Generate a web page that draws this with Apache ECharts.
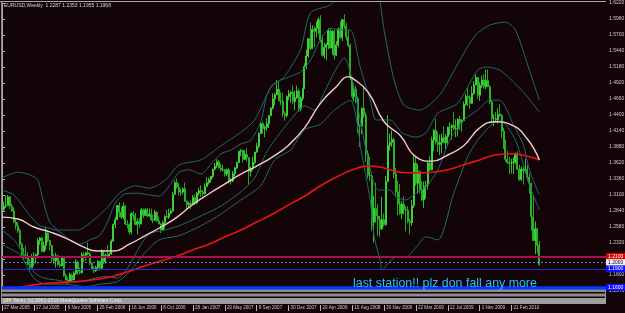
<!DOCTYPE html>
<html><head><meta charset="utf-8">
<script src="https://cdn.jsdelivr.net/npm/echarts@6/dist/echarts.min.js"></script>
<style>html,body{margin:0;padding:0;background:#120407;}#c{width:625px;height:313px;}</style>
</head><body><div id="c"></div>
<script>
const chartTitle = 'EURUSD,Weekly  1.2287 1.2353 1.1955 1.1968';
const footerText = 'UPI Timer, (c) 2001-2010 MetaQuotes Software Corp.';
const noteText = 'last station!! plz don fall any more';
const tickLabels = ['27 Mar 2005','17 Jul 2005','6 Nov 2005','26 Feb 2006','18 Jun 2006','8 Oct 2006','28 Jan 2007','20 May 2007','9 Sep 2007','30 Dec 2007','20 Apr 2008','10 Aug 2008','30 Nov 2008','22 Mar 2009','12 Jul 2009','1 Nov 2009','21 Feb 2010'];
const weeksPerLabel = 16;
const totalSlots = 304;
const yMin = 1.1540, yMax = 1.62201, yStep = 0.026;

const opens = [1.2960,1.2870,1.2920,1.2930,1.3070,1.2920,1.2840,1.2660,1.2600,1.2520,
1.2300,1.2130,1.2120,1.2080,1.1970,1.1920,1.2080,1.2110,1.2130,1.2360,
1.2400,1.2180,1.2280,1.2480,1.2360,1.2280,1.2070,1.2030,1.2110,1.1970,
1.1950,1.2080,1.1790,1.1720,1.1700,1.1800,1.1720,1.1830,1.2010,1.1860,
1.1840,1.2130,1.2120,1.2160,1.2140,1.1990,1.1900,1.1870,1.1920,1.2020,
1.1910,1.2180,1.2010,1.2120,1.2110,1.2140,1.2350,1.2620,1.2700,1.2930,
1.2820,1.2740,1.2920,1.2630,1.2620,1.2500,1.2800,1.2770,1.2620,1.2670,
1.2630,1.2860,1.2770,1.2860,1.2760,1.2790,1.2700,1.2690,1.2820,1.2680,
1.2630,1.2530,1.2650,1.2750,1.2740,1.2800,1.2840,1.3110,1.3300,1.3230,
1.3150,1.3150,1.3200,1.3000,1.2940,1.2960,1.2950,1.3060,1.2970,1.3130,
1.3170,1.3150,1.3120,1.3240,1.3300,1.3350,1.3400,1.3520,1.3570,1.3640,
1.3540,1.3510,1.3510,1.3440,1.3510,1.3330,1.3330,1.3450,1.3540,1.3630,
1.3810,1.3820,1.3680,1.3760,1.3710,1.3480,1.3530,1.3630,1.3800,1.3890,
1.4100,1.4260,1.4180,1.4200,1.4260,1.4390,1.4510,1.4660,1.4730,1.4820,
1.4630,1.4620,1.4420,1.4390,1.4700,1.4750,1.4770,1.4620,1.4680,1.4790,
1.4500,1.4670,1.4830,1.5190,1.5360,1.5640,1.5480,1.5790,1.5760,1.5810,
1.5950,1.5620,1.5370,1.5500,1.5540,1.5770,1.5490,1.5760,1.5370,1.5540,
1.5800,1.5660,1.5950,1.5850,1.5670,1.5530,1.5010,1.4700,1.4820,1.4670,
1.4230,1.4220,1.4510,1.4390,1.3770,1.3420,1.3410,1.2660,1.2880,1.2760,
1.2700,1.2550,1.2700,1.2620,1.3320,1.3910,1.3950,1.4000,1.3440,1.3150,
1.2950,1.2800,1.2950,1.2860,1.2850,1.2670,1.2650,1.2930,1.3620,1.3290,
1.3480,1.3190,1.3020,1.3240,1.3260,1.3620,1.3510,1.3990,1.4150,1.3960,
1.3920,1.3950,1.4030,1.3950,1.4050,1.4200,1.4200,1.4230,1.4180,1.4180,
1.4330,1.4280,1.4310,1.4570,1.4700,1.4680,1.4590,1.4750,1.4890,1.5010,
1.4720,1.4880,1.4970,1.4860,1.4960,1.4860,1.4610,1.4340,1.4340,1.4320,
1.4410,1.4390,1.4140,1.3860,1.3680,1.3630,1.3620,1.3620,1.3630,1.3770,
1.3520,1.3350,1.3520,1.3490,1.3520,1.3390,1.3290,1.2750,1.2360,1.2550,
1.2287];

const highs = [1.3000,1.2990,1.3090,1.3100,1.3080,1.2960,1.2900,1.2720,1.2660,1.2560,
1.2330,1.2240,1.2280,1.2170,1.2060,1.2140,1.2170,1.2150,1.2400,1.2420,
1.2420,1.2340,1.2590,1.2520,1.2370,1.2290,1.2140,1.2160,1.2130,1.2030,
1.2110,1.2110,1.1830,1.1760,1.1840,1.1830,1.1860,1.2060,1.2040,1.1920,
1.2170,1.2170,1.2170,1.2330,1.2180,1.2010,1.1940,1.1950,1.2040,1.2030,
1.2220,1.2200,1.2150,1.2290,1.2160,1.2380,1.2640,1.2750,1.2940,1.2980,
1.2900,1.2980,1.2940,1.2690,1.2640,1.2820,1.2840,1.2810,1.2720,1.2730,
1.2890,1.2880,1.2890,1.2890,1.2880,1.2880,1.2780,1.2860,1.2830,1.2750,
1.2640,1.2680,1.2770,1.2860,1.2880,1.2880,1.3150,1.3330,1.3370,1.3290,
1.3200,1.3220,1.3300,1.3010,1.2990,1.3010,1.3100,1.3110,1.3150,1.3220,
1.3260,1.3180,1.3290,1.3390,1.3380,1.3410,1.3530,1.3620,1.3680,1.3670,
1.3610,1.3590,1.3520,1.3530,1.3540,1.3370,1.3490,1.3560,1.3640,1.3820,
1.3850,1.3840,1.3830,1.3860,1.3710,1.3560,1.3720,1.3800,1.3950,1.4120,
1.4280,1.4290,1.4230,1.4350,1.4400,1.4530,1.4750,1.4760,1.4970,1.4950,
1.4770,1.4760,1.4460,1.4720,1.4810,1.4790,1.4880,1.4790,1.4880,1.4830,
1.4700,1.4830,1.5240,1.5460,1.5650,1.5900,1.5860,1.5840,1.5920,1.5990,
1.6020,1.5700,1.5570,1.5570,1.5810,1.5810,1.5780,1.5780,1.5600,1.5820,
1.5920,1.5960,1.6038,1.5900,1.5780,1.5560,1.5020,1.4900,1.4870,1.4700,
1.4250,1.4520,1.4870,1.4440,1.3830,1.3720,1.3470,1.3090,1.3300,1.2950,
1.2760,1.3070,1.2800,1.3410,1.4400,1.4100,1.4150,1.4030,1.3540,1.3330,
1.3280,1.3000,1.3080,1.2920,1.2920,1.2720,1.3020,1.3740,1.3740,1.3600,
1.3500,1.3320,1.3320,1.3330,1.3650,1.3740,1.4050,1.4170,1.4340,1.4130,
1.4080,1.4100,1.4220,1.4090,1.4210,1.4280,1.4250,1.4450,1.4330,1.4350,
1.4390,1.4330,1.4620,1.4740,1.4840,1.4720,1.4870,1.4950,1.5060,1.5020,
1.4930,1.5040,1.5060,1.5140,1.5140,1.4880,1.4650,1.4410,1.4450,1.4510,
1.4580,1.4420,1.4190,1.4000,1.3820,1.3720,1.3690,1.3710,1.3790,1.3810,
1.3590,1.3560,1.3560,1.3690,1.3590,1.3450,1.3300,1.3100,1.2670,1.2570,
1.2353];

const lows = [1.2850,1.2840,1.2890,1.2930,1.2870,1.2830,1.2650,1.2540,1.2480,1.2230,
1.2080,1.2040,1.2060,1.1960,1.1867,1.1910,1.1950,1.1990,1.2100,1.2290,
1.2170,1.2170,1.2200,1.2330,1.2200,1.2000,1.1980,1.1920,1.1950,1.1920,
1.1940,1.1770,1.1710,1.1640,1.1690,1.1700,1.1710,1.1800,1.1800,1.1810,
1.1820,1.2000,1.2030,1.2120,1.1960,1.1880,1.1830,1.1850,1.1870,1.1870,
1.1900,1.1980,1.1980,1.2070,1.2070,1.2130,1.2340,1.2560,1.2690,1.2740,
1.2710,1.2710,1.2610,1.2560,1.2460,1.2460,1.2690,1.2610,1.2460,1.2570,
1.2620,1.2720,1.2760,1.2740,1.2750,1.2680,1.2640,1.2680,1.2660,1.2620,
1.2480,1.2520,1.2550,1.2720,1.2710,1.2790,1.2830,1.3100,1.3200,1.3090,
1.3090,1.3110,1.2990,1.2870,1.2880,1.2870,1.2930,1.2930,1.2950,1.3090,
1.3070,1.3080,1.3110,1.3230,1.3270,1.3300,1.3370,1.3500,1.3540,1.3530,
1.3480,1.3480,1.3400,1.3410,1.3290,1.3270,1.3310,1.3400,1.3520,1.3620,
1.3730,1.3630,1.3670,1.3650,1.3260,1.3400,1.3500,1.3600,1.3780,1.3860,
1.4090,1.4100,1.4040,1.4140,1.4190,1.4380,1.4490,1.4560,1.4720,1.4620,
1.4560,1.4370,1.4310,1.4360,1.4640,1.4600,1.4580,1.4480,1.4660,1.4450,
1.4460,1.4630,1.4820,1.5140,1.5330,1.5450,1.5470,1.5500,1.5660,1.5720,
1.5580,1.5350,1.5320,1.5290,1.5470,1.5480,1.5380,1.5300,1.5360,1.5500,
1.5630,1.5600,1.5800,1.5610,1.5500,1.4970,1.4660,1.4620,1.4590,1.4110,
1.3880,1.4090,1.4350,1.3640,1.3370,1.3330,1.2520,1.2330,1.2650,1.2440,
1.2420,1.2530,1.2590,1.2600,1.3310,1.3820,1.3880,1.3370,1.3080,1.2770,
1.2780,1.2710,1.2780,1.2510,1.2640,1.2460,1.2600,1.2890,1.3250,1.3120,
1.3130,1.3000,1.2890,1.3040,1.3190,1.3490,1.3500,1.3810,1.3920,1.3800,
1.3750,1.3780,1.3940,1.3850,1.3900,1.4080,1.4000,1.4150,1.4040,1.4050,
1.4160,1.4130,1.4300,1.4550,1.4550,1.4500,1.4580,1.4730,1.4880,1.4660,
1.4630,1.4840,1.4830,1.4820,1.4850,1.4580,1.4260,1.4220,1.4290,1.4260,
1.4370,1.4030,1.3850,1.3640,1.3600,1.3440,1.3450,1.3440,1.3600,1.3510,
1.3330,1.3330,1.3270,1.3450,1.3330,1.3120,1.2520,1.2350,1.2140,1.2150,
1.1955];

const closes = [1.2870,1.2920,1.2930,1.3070,1.2920,1.2840,1.2660,1.2600,1.2520,1.2300,
1.2130,1.2120,1.2080,1.1970,1.1920,1.2080,1.2110,1.2130,1.2360,1.2400,
1.2180,1.2280,1.2480,1.2360,1.2280,1.2070,1.2030,1.2110,1.1970,1.1950,
1.2080,1.1790,1.1720,1.1700,1.1800,1.1720,1.1830,1.2010,1.1860,1.1840,
1.2130,1.2120,1.2160,1.2140,1.1990,1.1900,1.1870,1.1920,1.2020,1.1910,
1.2180,1.2010,1.2120,1.2110,1.2140,1.2350,1.2620,1.2700,1.2930,1.2820,
1.2740,1.2920,1.2630,1.2620,1.2500,1.2800,1.2770,1.2620,1.2670,1.2630,
1.2860,1.2770,1.2860,1.2760,1.2790,1.2700,1.2690,1.2820,1.2680,1.2630,
1.2530,1.2650,1.2750,1.2740,1.2800,1.2840,1.3110,1.3300,1.3230,1.3150,
1.3150,1.3200,1.3000,1.2940,1.2960,1.2950,1.3060,1.2970,1.3130,1.3170,
1.3150,1.3120,1.3240,1.3300,1.3350,1.3400,1.3520,1.3570,1.3640,1.3540,
1.3510,1.3510,1.3440,1.3510,1.3330,1.3330,1.3450,1.3540,1.3630,1.3810,
1.3820,1.3680,1.3760,1.3710,1.3480,1.3530,1.3630,1.3800,1.3890,1.4100,
1.4260,1.4180,1.4200,1.4260,1.4390,1.4510,1.4660,1.4730,1.4820,1.4630,
1.4620,1.4420,1.4390,1.4700,1.4750,1.4770,1.4620,1.4680,1.4790,1.4500,
1.4670,1.4830,1.5190,1.5360,1.5640,1.5480,1.5790,1.5760,1.5810,1.5950,
1.5620,1.5370,1.5500,1.5540,1.5770,1.5490,1.5760,1.5370,1.5540,1.5800,
1.5660,1.5950,1.5850,1.5670,1.5530,1.5010,1.4700,1.4820,1.4670,1.4230,
1.4220,1.4510,1.4390,1.3770,1.3420,1.3410,1.2660,1.2880,1.2760,1.2700,
1.2550,1.2700,1.2620,1.3320,1.3910,1.3950,1.4000,1.3440,1.3150,1.2950,
1.2800,1.2950,1.2860,1.2850,1.2670,1.2650,1.2930,1.3620,1.3290,1.3480,
1.3190,1.3020,1.3240,1.3260,1.3620,1.3510,1.3990,1.4150,1.3960,1.3920,
1.3950,1.4030,1.3950,1.4050,1.4200,1.4200,1.4230,1.4180,1.4180,1.4330,
1.4280,1.4310,1.4570,1.4700,1.4680,1.4590,1.4750,1.4890,1.5010,1.4720,
1.4880,1.4970,1.4860,1.4960,1.4860,1.4610,1.4340,1.4340,1.4320,1.4410,
1.4390,1.4140,1.3860,1.3680,1.3630,1.3620,1.3620,1.3630,1.3770,1.3520,
1.3350,1.3520,1.3490,1.3520,1.3390,1.3290,1.2750,1.2360,1.2550,1.2280,
1.1968];

// moving averages: [week index, price]
const maPink = [[0,1.274],[8,1.271],[16,1.258],[24,1.250],[32,1.240],[40,1.227],[48,1.219],[56,1.219],[64,1.230],[72,1.244],[80,1.258],[88,1.274],[96,1.295],[104,1.312],[112,1.328],[120,1.344],[128,1.357],[136,1.372],[144,1.391],[152,1.419],[160,1.459],[168,1.486],[174,1.502],[176,1.500],[184,1.477],[192,1.429],[200,1.407],[208,1.372],[216,1.365],[224,1.375],[232,1.390],[240,1.419],[248,1.429],[256,1.424],[264,1.401],[270,1.367]];
const maRed = [[0,1.154],[8,1.159],[16,1.164],[24,1.167],[32,1.168],[40,1.170],[48,1.173],[56,1.178],[64,1.186],[72,1.195],[80,1.203],[88,1.211],[96,1.221],[104,1.230],[112,1.242],[120,1.253],[128,1.266],[136,1.279],[144,1.294],[152,1.308],[160,1.325],[168,1.339],[176,1.351],[184,1.357],[192,1.354],[200,1.347],[208,1.346],[216,1.347],[224,1.351],[232,1.359],[240,1.367],[248,1.375],[256,1.377],[264,1.373],[270,1.367]];
// envelope / band lines
const bandUpInner = [[0,1.318],[6,1.310],[14,1.277],[19,1.260],[24,1.256],[29,1.250],[34,1.237],[39,1.230],[44,1.237],[49,1.244],[53,1.266],[57,1.297],[62,1.312],[68,1.313],[74,1.310],[79,1.308],[84,1.325],[89,1.347],[94,1.351],[100,1.344],[105,1.360],[110,1.377],[115,1.383],[120,1.393],[125,1.399],[130,1.429],[133,1.471],[136,1.490],[145,1.503],[150,1.510],[155,1.529],[160,1.562],[165,1.581],[170,1.578],[175,1.578],[180,1.518],[185,1.464],[188,1.432],[195,1.432],[201,1.411],[208,1.404],[213,1.411],[219,1.443],[229,1.459],[239,1.513],[244,1.518],[250,1.513],[255,1.500],[262,1.477],[270,1.445]];
const bandUpOuter = [[0,1.338],[8,1.347],[14,1.343],[18,1.334],[20,1.310],[24,1.266],[29,1.253],[38,1.253],[46,1.269],[53,1.290],[59,1.313],[67,1.325],[74,1.321],[82,1.334],[89,1.359],[100,1.367],[110,1.390],[120,1.412],[127,1.432],[135,1.484],[142,1.503],[150,1.546],[155,1.606],[165,1.619],[175,1.651],[182,1.668],[189,1.635],[192,1.578],[197,1.497],[202,1.456],[210,1.448],[220,1.473],[230,1.529],[238,1.570],[245,1.586],[253,1.591],[258,1.578],[265,1.513],[270,1.464]];
const bandDnInner = [[0,1.253],[6,1.237],[13,1.204],[16,1.185],[21,1.175],[27,1.172],[33,1.169],[39,1.169],[47,1.175],[53,1.178],[58,1.175],[63,1.191],[69,1.225],[74,1.247],[82,1.253],[89,1.260],[100,1.276],[110,1.292],[120,1.315],[127,1.338],[133,1.380],[140,1.412],[145,1.432],[152,1.455],[157,1.448],[162,1.477],[167,1.510],[172,1.533],[176,1.497],[180,1.432],[184,1.367],[189,1.318],[195,1.318],[198,1.307],[203,1.302],[208,1.313],[213,1.323],[219,1.351],[225,1.399],[232,1.432],[239,1.448],[245,1.464],[250,1.464],[257,1.424],[262,1.391],[265,1.351],[270,1.310]];
const bandDnOuter = [[0,1.229],[9,1.213],[16,1.175],[22,1.165],[32,1.165],[42,1.161],[49,1.165],[58,1.169],[64,1.185],[72,1.217],[79,1.237],[89,1.244],[100,1.260],[110,1.279],[120,1.302],[130,1.325],[137,1.367],[145,1.383],[152,1.416],[160,1.425],[167,1.448],[175,1.464],[181,1.372],[185,1.302],[187,1.242],[190,1.204],[191,1.188],[194,1.199],[198,1.209],[203,1.209],[208,1.225],[213,1.242],[219,1.237],[227,1.313],[234,1.372],[239,1.399],[245,1.421],[250,1.432],[258,1.399],[265,1.326],[270,1.286]];

// horizontal price levels
const levelMaroon = 1.2140;
const levelBid = 1.1968;
const levelBlueThin = 1.1870;
const levelBlueThick = 1.1640;

const slots = Array.from({length: totalSlots}, (_, i) => String(i));
const candles = opens.map((o, i) => [o, closes[i], lows[i], highs[i]]);
const isLabelSlot = (i) => i % weeksPerLabel === 0 && i / weeksPerLabel < tickLabels.length;
const FONT = '"Liberation Sans", Arial, sans-serif';

const chart = echarts.init(document.getElementById('c'), null, {renderer: 'canvas'});
chart.setOption({
  animation: false,
  backgroundColor: '#120407',
  grid: {left: 1, right: 19, top: 3, bottom: 22, containLabel: false, outerBoundsMode: 'none'},
  xAxis: [{
    type: 'category', data: slots, boundaryGap: true, offset: 14,
    axisLine: {show: false},
    axisTick: {show: true, interval: isLabelSlot, alignWithLabel: true, length: 6, lineStyle: {color: '#b8b8b8', width: 1}},
    axisLabel: {show: true, interval: isLabelSlot, formatter: (v, i) => tickLabels[Math.round(i / weeksPerLabel)],
      fontSize: 4.6, color: '#cfcfcf', align: 'left', verticalAlign: 'top', margin: 0, padding: [0,0,0,2], fontFamily: FONT},
    splitLine: {show: false}
  }, {
    type: 'value', min: -0.5, max: totalSlots - 0.5, show: false
  }],
  yAxis: {
    type: 'value', position: 'right', min: yMin, max: yMax, interval: yStep,
    axisLine: {show: true, lineStyle: {color: '#a8a8a8', width: 1}},
    axisTick: {show: true, length: 3, lineStyle: {color: '#a8a8a8'}},
    axisLabel: {fontSize: 5, color: '#cfcfcf', margin: 3, fontFamily: FONT, formatter: v => v.toFixed(4)},
    splitLine: {show: false}
  },
  series: [
    {type: 'candlestick', xAxisIndex: 0, data: candles, barWidth: 1.5,
     itemStyle: {color: '#3fe83f', color0: '#147a18', borderColor: '#3fe83f', borderColor0: '#2ccf2c', borderWidth: 0.8},
     z: 2,
     markLine: {
       symbol: 'none', silent: true, z: 5,
       label: {show: true, position: 'end', distance: 0, fontSize: 5, fontFamily: FONT, padding: [1,2,1,2], formatter: p => Number(p.value).toFixed(4)},
       data: [
         {yAxis: levelMaroon, lineStyle: {color: '#a8124a', width: 2, type: 'solid'}, label: {backgroundColor: '#e00000', color: '#ffffff'}},
         {yAxis: levelBid, lineStyle: {color: '#5e8e98', width: 1, type: [2, 2]}, label: {backgroundColor: '#f2f2f2', color: '#000000'}},
         {yAxis: levelBlueThin, lineStyle: {color: '#2828d8', width: 1, type: 'solid'}, label: {backgroundColor: '#1010ff', color: '#ffffff'}},
         {yAxis: levelBlueThick, lineStyle: {color: '#0a34ff', width: 3.5, type: 'solid'}, label: {backgroundColor: '#1010ff', color: '#ffffff'}}
       ]
     }},
    {type: 'line', xAxisIndex: 1, data: bandUpOuter, showSymbol: false, smooth: 0.25, lineStyle: {color: '#1d6b6c', width: 1}, z: 3},
    {type: 'line', xAxisIndex: 1, data: bandUpInner, showSymbol: false, smooth: 0.25, lineStyle: {color: '#1d6b6c', width: 1}, z: 3},
    {type: 'line', xAxisIndex: 1, data: bandDnInner, showSymbol: false, smooth: 0.25, lineStyle: {color: '#1d6b6c', width: 1}, z: 3},
    {type: 'line', xAxisIndex: 1, data: bandDnOuter, showSymbol: false, smooth: 0.25, lineStyle: {color: '#1d6b6c', width: 1}, z: 3},
    {type: 'line', xAxisIndex: 1, data: maRed, showSymbol: false, smooth: true, lineStyle: {color: '#e81414', width: 1.6}, z: 4},
    {type: 'line', xAxisIndex: 1, data: maPink, showSymbol: false, smooth: true, lineStyle: {color: '#f2cccc', width: 1.4}, z: 4}
  ],
  graphic: [
    {type: 'line', shape: {x1: 0, y1: 1.5, x2: 606, y2: 1.5}, style: {stroke: '#a8a8a8', lineWidth: 1}, z: 10},
    {type: 'line', shape: {x1: 1.5, y1: 1, x2: 1.5, y2: 304}, style: {stroke: '#8a8a8a', lineWidth: 1}, z: 10},
    {type: 'line', shape: {x1: 605.5, y1: 290, x2: 605.5, y2: 304}, style: {stroke: '#a8a8a8', lineWidth: 1}, z: 10},
    {type: 'rect', shape: {x: 1, y: 289.5, width: 605, height: 2.5}, style: {fill: '#8c8c8c'}, z: 10},
    {type: 'rect', shape: {x: 1, y: 293.5, width: 605, height: 3}, style: {fill: '#8c8c8c'}, z: 10},
    {type: 'rect', shape: {x: 1, y: 298, width: 605, height: 6}, style: {fill: '#9c9c9c'}, z: 10},
    {type: 'text', x: 3, y: 298.6, style: {text: footerText, fill: '#f0f0f0', font: '5px ' + FONT}, z: 11},
    {type: 'text', x: 4, y: 3.5, style: {text: chartTitle, fill: '#d8d8d8', font: '5px ' + FONT}, z: 11},
    {type: 'text', x: 353, y: 277.5, style: {text: noteText, fill: '#22c4f4', font: '12.4px ' + FONT}, z: 11}
  ]
});
</script>
</body></html>
